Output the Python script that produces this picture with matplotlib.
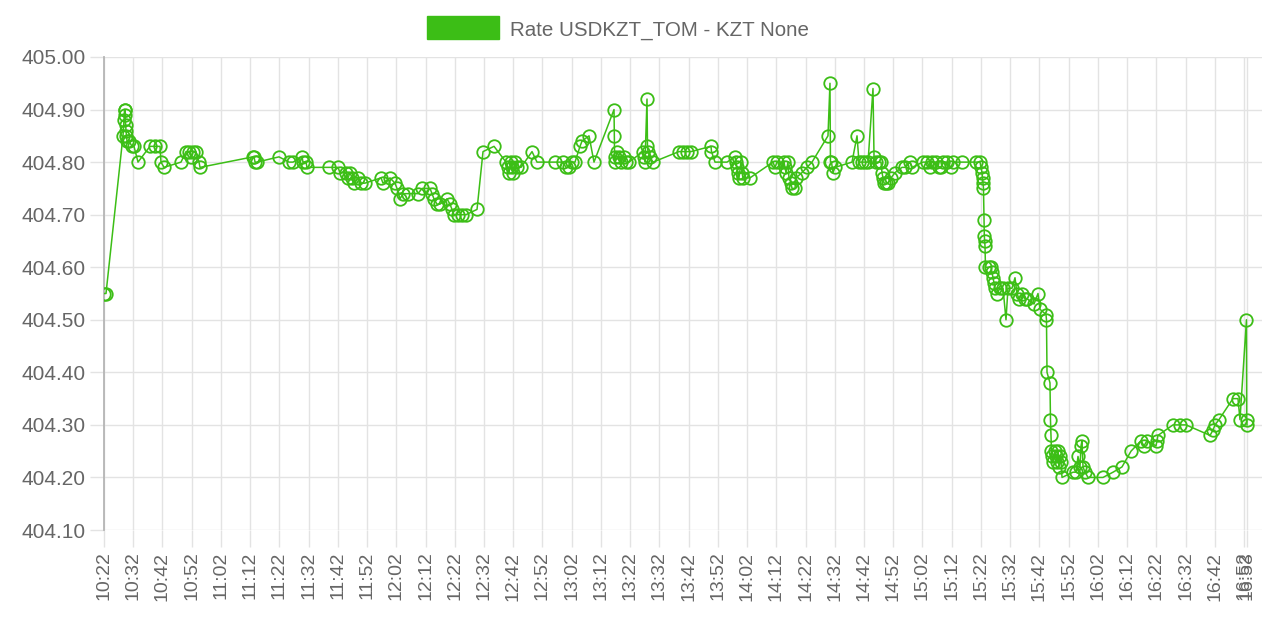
import pandas as pd
import numpy as np
import matplotlib
matplotlib.use('Agg')
import matplotlib.pyplot as plt
import matplotlib.dates as mdates
from matplotlib.patches import Rectangle

plt.rcParams['font.family'] = ['Liberation Sans', 'DejaVu Sans']

series_name = 'Rate USDKZT_TOM - KZT None'

# timestamps (HH:MM:SS)
times = [
    '10:22:00', '10:22:41', '10:28:30', '10:28:51', '10:29:01', '10:29:11', '10:29:17', '10:29:23',
    '10:29:32', '10:29:40', '10:29:52', '10:30:33', '10:31:35', '10:32:16', '10:33:38', '10:37:44',
    '10:39:27', '10:41:10', '10:41:30', '10:42:32', '10:48:21', '10:50:03', '10:51:05', '10:51:46',
    '10:52:27', '10:53:28', '10:54:30', '10:54:51', '11:12:59', '11:13:19', '11:13:40', '11:14:21',
    '11:21:52', '11:25:17', '11:26:40', '11:29:44', '11:30:05', '11:31:06', '11:31:27', '11:38:59',
    '11:42:03', '11:42:44', '11:44:48', '11:45:29', '11:46:10', '11:46:51', '11:47:32', '11:48:54',
    '11:49:55', '11:51:18', '11:56:46', '11:57:27', '11:59:51', '12:01:33', '12:02:14', '12:03:16',
    '12:04:18', '12:06:00', '12:09:25', '12:10:48', '12:13:32', '12:14:13', '12:14:54', '12:15:55',
    '12:16:57', '12:19:21', '12:20:22', '12:21:03', '12:21:44', '12:23:07', '12:24:29', '12:25:51',
    '12:29:37', '12:31:40', '12:35:26', '12:39:32', '12:40:13', '12:40:33', '12:41:14', '12:41:35',
    '12:41:56', '12:42:37', '12:43:18', '12:44:40', '12:48:26', '12:50:08', '12:56:18', '12:59:02',
    '13:00:03', '13:01:05', '13:02:07', '13:03:08', '13:04:51', '13:05:32', '13:07:56', '13:09:38',
    '13:16:29', '13:16:35', '13:16:41', '13:16:49', '13:17:30', '13:18:11', '13:18:52', '13:19:54',
    '13:20:35', '13:21:36', '13:26:24', '13:26:44', '13:27:05', '13:27:46', '13:27:56', '13:28:06',
    '13:28:47', '13:29:49', '13:38:43', '13:40:05', '13:41:27', '13:42:49', '13:49:40', '13:49:50',
    '13:51:02', '13:55:08', '13:57:52', '13:58:13', '13:58:33', '13:58:54', '13:59:14', '13:59:55',
    '14:00:16', '14:00:36', '14:03:00', '14:10:52', '14:11:33', '14:12:14', '14:14:38', '14:14:58',
    '14:15:19', '14:16:00', '14:16:20', '14:17:01', '14:17:22', '14:18:24', '14:18:44', '14:20:47',
    '14:22:30', '14:24:13', '14:29:41', '14:30:22', '14:30:32', '14:30:53', '14:31:24', '14:32:05',
    '14:37:54', '14:39:37', '14:40:18', '14:41:20', '14:42:21', '14:43:23', '14:45:05', '14:45:26',
    '14:46:07', '14:47:08', '14:47:49', '14:48:10', '14:48:31', '14:48:51', '14:49:32', '14:50:13',
    '14:51:15', '14:52:37', '14:55:00', '14:56:02', '14:57:45', '14:58:26', '15:02:11', '15:03:34',
    '15:04:35', '15:05:16', '15:06:38', '15:07:40', '15:08:21', '15:09:02', '15:10:24', '15:11:46',
    '15:12:27', '15:15:32', '15:20:20', '15:21:42', '15:22:02', '15:22:23', '15:22:33', '15:22:43',
    '15:22:53', '15:23:04', '15:23:10', '15:23:16', '15:23:24', '15:23:34', '15:24:46', '15:25:27',
    '15:25:48', '15:26:08', '15:26:29', '15:26:50', '15:27:31', '15:28:32', '15:29:34', '15:30:35',
    '15:31:16', '15:32:38', '15:33:40', '15:34:21', '15:35:02', '15:36:04', '15:37:05', '15:37:46',
    '15:40:10', '15:41:32', '15:42:13', '15:44:16', '15:44:26', '15:44:37', '15:45:38', '15:45:48',
    '15:45:59', '15:46:09', '15:46:20', '15:46:40', '15:47:21', '15:47:42', '15:48:02', '15:48:23',
    '15:48:43', '15:49:04', '15:49:24', '15:49:45', '15:53:31', '15:54:32', '15:55:13', '15:55:54',
    '15:56:15', '15:56:35', '15:56:56', '15:57:37', '15:58:39', '16:03:46', '16:07:12', '16:10:16',
    '16:13:21', '16:16:47', '16:17:48', '16:18:50', '16:21:54', '16:22:15', '16:22:35', '16:27:43',
    '16:30:07', '16:32:10', '16:40:23', '16:41:24', '16:42:05', '16:43:27', '16:48:14', '16:49:57',
    '16:50:38', '16:52:51', '16:52:56', '16:53:02',
]

rates = [
    404.55, 404.55, 404.85, 404.88, 404.90, 404.90, 404.89, 404.87,
    404.86, 404.85, 404.84, 404.84, 404.83, 404.83, 404.80, 404.83,
    404.83, 404.83, 404.80, 404.79, 404.80, 404.82, 404.82, 404.81,
    404.82, 404.82, 404.80, 404.79, 404.81, 404.81, 404.80, 404.80,
    404.81, 404.80, 404.80, 404.81, 404.80, 404.80, 404.79, 404.79,
    404.79, 404.78, 404.78, 404.77, 404.78, 404.77, 404.76, 404.77,
    404.76, 404.76, 404.77, 404.76, 404.77, 404.76, 404.75, 404.73,
    404.74, 404.74, 404.74, 404.75, 404.75, 404.74, 404.73, 404.72,
    404.72, 404.73, 404.72, 404.71, 404.70, 404.70, 404.70, 404.70,
    404.71, 404.82, 404.83, 404.80, 404.79, 404.78, 404.80, 404.79,
    404.78, 404.80, 404.79, 404.79, 404.82, 404.80, 404.80, 404.80,
    404.79, 404.79, 404.80, 404.80, 404.83, 404.84, 404.85, 404.80,
    404.90, 404.85, 404.81, 404.80, 404.82, 404.81, 404.80, 404.81,
    404.80, 404.80, 404.82, 404.81, 404.80, 404.92, 404.83, 404.82,
    404.81, 404.80, 404.82, 404.82, 404.82, 404.82, 404.83, 404.82,
    404.80, 404.80, 404.81, 404.80, 404.79, 404.78, 404.77, 404.80,
    404.78, 404.77, 404.77, 404.80, 404.79, 404.80, 404.80, 404.79,
    404.78, 404.80, 404.77, 404.76, 404.75, 404.75, 404.77, 404.78,
    404.79, 404.80, 404.85, 404.95, 404.80, 404.80, 404.78, 404.79,
    404.80, 404.85, 404.80, 404.80, 404.80, 404.80, 404.94, 404.81,
    404.80, 404.80, 404.80, 404.78, 404.77, 404.76, 404.76, 404.76,
    404.77, 404.78, 404.79, 404.79, 404.80, 404.79, 404.80, 404.80,
    404.79, 404.80, 404.80, 404.79, 404.79, 404.80, 404.80, 404.79,
    404.80, 404.80, 404.80, 404.80, 404.79, 404.78, 404.77, 404.76,
    404.75, 404.69, 404.66, 404.65, 404.64, 404.60, 404.60, 404.60,
    404.59, 404.58, 404.57, 404.56, 404.55, 404.56, 404.56, 404.50,
    404.56, 404.56, 404.58, 404.55, 404.54, 404.55, 404.54, 404.54,
    404.53, 404.55, 404.52, 404.51, 404.50, 404.40, 404.38, 404.31,
    404.28, 404.25, 404.24, 404.23, 404.25, 404.24, 404.23, 404.25,
    404.22, 404.24, 404.23, 404.20, 404.21, 404.21, 404.24, 404.22,
    404.26, 404.27, 404.22, 404.21, 404.20, 404.20, 404.21, 404.22,
    404.25, 404.27, 404.26, 404.27, 404.26, 404.27, 404.28, 404.30,
    404.30, 404.30, 404.28, 404.29, 404.30, 404.31, 404.35, 404.35,
    404.31, 404.50, 404.31, 404.30,
]

y_ticks = [404.10, 404.20, 404.30, 404.40, 404.50, 404.60, 404.70, 404.80, 404.90, 405.00]

day = '2020-01-01 '
t = pd.to_datetime([day + s for s in times])

green = '#3cbe16'
grid_c = '#e3e3e3'
text_c = '#666666'

fig = plt.figure(figsize=(12.8, 6.25), dpi=100)
ax = fig.add_axes([104 / 1280, 95 / 625, (1262 - 104) / 1280, (530 - 57) / 625])

ax.plot(t, rates, color=green, linewidth=1.1, marker='o', markersize=9,
        markerfacecolor='none', markeredgecolor=green, markeredgewidth=1.3, zorder=3)

# x axis: every 10 minutes from the first point, plus the last point
xt = list(pd.date_range(day + '10:22', day + '16:52', freq='10min')) + [t[-1]]
ax.set_xticks(xt)
ax.xaxis.set_major_formatter(mdates.DateFormatter('%H:%M'))
ax.set_xlim(t[0], pd.Timestamp(day + '16:58:10'))
ax.set_ylim(404.10, 405.00)
ax.set_yticks(y_ticks)
ax.set_yticklabels(['%.2f' % v for v in y_ticks])

ax.grid(True, color=grid_c, linewidth=1.0, zorder=0)
ax.tick_params(axis='y', length=10, width=1, color=grid_c, pad=3.5, labelsize=15, labelcolor=text_c)
ax.tick_params(axis='x', length=12, width=1, color=grid_c, pad=3.5, labelsize=14, labelcolor=text_c,
               labelrotation=90)
for s in ['top', 'right', 'bottom']:
    ax.spines[s].set_visible(False)
ax.spines['left'].set_color('#b5b5b5')
ax.spines['left'].set_linewidth(1.3)

# legend like chart.js: filled box + label on top
fig.patches.append(Rectangle((427 / 1280, 1 - 39 / 625), 72 / 1280, 23 / 625,
                             transform=fig.transFigure, facecolor=green, edgecolor=green))
fig.text(510 / 1280, 1 - 31 / 625, series_name, fontsize=14.8, color=text_c, va='center', ha='left')

fig.savefig('out.png', dpi=100, facecolor='white')
